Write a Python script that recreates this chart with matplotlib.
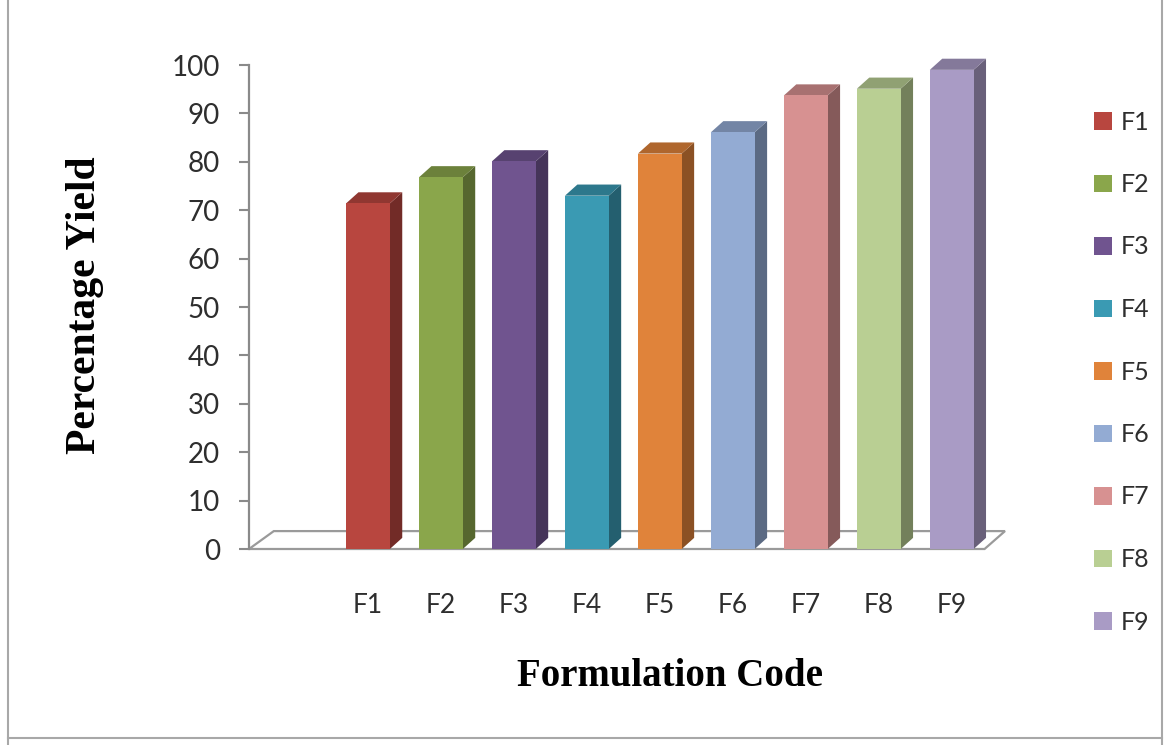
import matplotlib
matplotlib.use('Agg')
import numpy as np
import matplotlib.pyplot as plt
from matplotlib.patches import Polygon, Patch
from matplotlib.lines import Line2D

codes = ['F1', 'F2', 'F3', 'F4', 'F5', 'F6', 'F7', 'F8', 'F9']
yields = [71.4, 76.8, 80.1, 73.0, 81.7, 86.1, 93.7, 95.1, 99.0]
front_cols = ['#B8463F', '#8AA64B', '#70548F', '#3A9AB3', '#E0833A',
              '#93ABD3', '#D79191', '#B9CF93', '#A99BC5']
yticks = np.arange(0, 101, 10)


def shade(c, f):
    r, g, b = matplotlib.colors.to_rgb(c)
    return (r * f, g * f, b * f)


fig = plt.figure(figsize=(11.66, 7.45), dpi=100)
ax = fig.add_axes([249 / 1166, 196 / 745, 756 / 1166, 484 / 745])
ax.set_xlim(-1.63, 8.73)
ax.set_ylim(0, 100)

# pseudo-3d depth, in data units
dx, dy = 0.17, 2.3
hw = 0.3

# floor
floor = Polygon([(-1.63, 0), (-1.29, 3.7), (8.73, 3.7), (8.45, 0)], closed=True,
                facecolor='white', edgecolor='#9A9A9A', lw=1.6, clip_on=False, zorder=1)
ax.add_patch(floor)

for i, (v, c) in enumerate(zip(yields, front_cols)):
    x0, x1 = i - hw, i + hw
    side = Polygon([(x1, 0), (x1 + dx, dy), (x1 + dx, v + dy), (x1, v)],
                   facecolor=shade(c, 0.62), edgecolor='none', clip_on=False, zorder=3)
    top = Polygon([(x0, v), (x0 + dx, v + dy), (x1 + dx, v + dy), (x1, v)],
                  facecolor=shade(c, 0.78), edgecolor='none', clip_on=False, zorder=3)
    ax.add_patch(side)
    ax.add_patch(top)
    ax.bar(i, v, width=2 * hw, color=c, edgecolor='none', zorder=4)

for s in ['top', 'right', 'bottom']:
    ax.spines[s].set_visible(False)
ax.spines['left'].set_color('#8A8A8A')
ax.spines['left'].set_linewidth(1.6)

ax.set_yticks(yticks)
ax.set_yticklabels([str(t) for t in yticks], fontfamily='Lato', fontsize=20, color='#2E2E2E')
ax.tick_params(axis='y', length=7, width=1.5, color='#8A8A8A', pad=14)
ax.set_xticks(range(len(codes)))
ax.set_xticklabels(codes, fontfamily='Lato', fontsize=19, color='#2E2E2E')
ax.tick_params(axis='x', length=0, pad=32)

ax.set_ylabel('Percentage Yield', fontfamily='Liberation Serif', fontweight='bold', fontsize=30)
ax.yaxis.set_label_coords(-0.217, 0.504)
ax.yaxis.label.set_va('center')
ax.set_xlabel('Formulation Code', fontfamily='Liberation Serif', fontweight='bold', fontsize=28)
ax.xaxis.set_label_coords(0.557, -0.264)
ax.xaxis.label.set_va('center')

handles = [Patch(facecolor=c, edgecolor='none') for c in front_cols]
fig.legend(handles, codes, loc='upper left', bbox_to_anchor=(1071 / 1166, 1 - 88 / 745),
           frameon=False, prop={'family': 'Lato', 'size': 18}, labelcolor='#2E2E2E',
           handlelength=0.75, handleheight=0.7, handletextpad=0.35, labelspacing=1.58)

# outer frame
for xs, ys in [([8 / 1166, 8 / 1166], [0.0, 1.0]),
               ([1162 / 1166, 1162 / 1166], [0.0, 1.0]),
               ([8 / 1166, 1162 / 1166], [7 / 745, 7 / 745])]:
    fig.add_artist(Line2D(xs, ys, color='#A8A8A8', lw=1.5))

fig.savefig('out.png', dpi=100, facecolor='white')
